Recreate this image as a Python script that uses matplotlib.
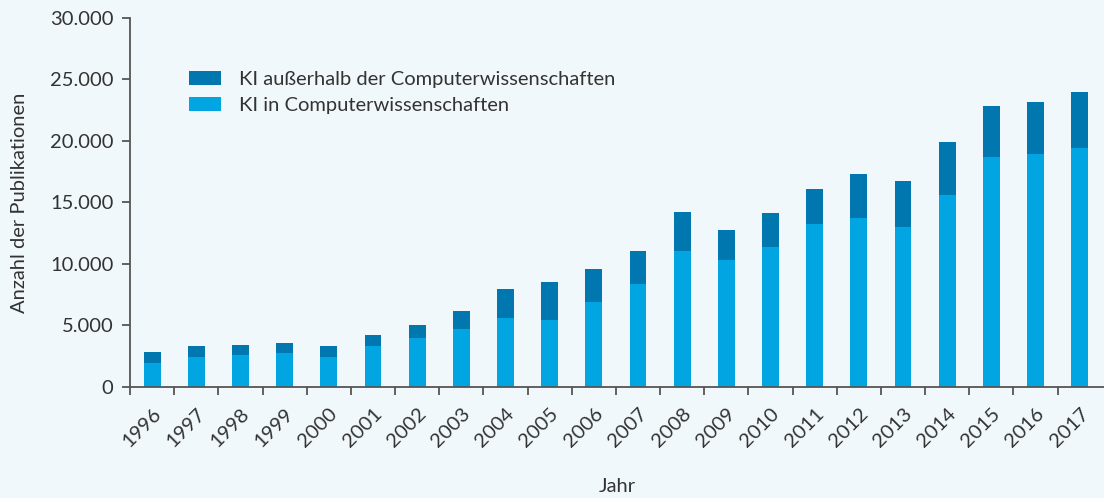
"""Stacked bars: KI publications per year, split by field."""

import matplotlib.pyplot as plt
import numpy as np
from matplotlib.ticker import FuncFormatter

years = ["1996", "1997", "1998", "1999", "2000", "2001", "2002", "2003",
         "2004", "2005", "2006", "2007", "2008", "2009", "2010", "2011",
         "2012", "2013", "2014", "2015", "2016", "2017"]

# publications inside computer science
ki_cs = [1960, 2470, 2630, 2800, 2470, 3340, 3990, 4730, 5620, 5460, 6870,
         8360, 11030, 10350, 11360, 13260, 13720, 12990, 15620, 18700,
         18960, 19430]

# totals per year (inside + outside computer science)
ki_total = [2850, 3340, 3420, 3590, 3340, 4240, 5050, 6140, 7930, 8500,
            9560, 11050, 14200, 12740, 14130, 16110, 17330, 16760, 19890,
            22850, 23180, 23990]

ki_other = [t - c for t, c in zip(ki_total, ki_cs)]

BG = "#f1f8fc"
TEXT = "#333333"
DARK = "#0077af"
LIGHT = "#00a5e1"
FS = 14.5

plt.rcParams["font.family"] = ["Lato", "DejaVu Sans"]

fig = plt.figure(figsize=(11.04, 4.98), dpi=100, facecolor=BG)
ax = fig.add_axes([0.1178, 0.223, 0.8822, 0.741], facecolor=BG)

x = np.arange(len(years))
width = 0.38
ax.bar(x, ki_cs, width, color=LIGHT, label="KI in Computerwissenschaften")
ax.bar(x, ki_other, width, bottom=ki_cs, color=DARK,
       label="KI außerhalb der Computerwissenschaften")

ax.set_xlim(-0.5, len(years) - 0.45)
ax.set_ylim(0, 30000)
ax.set_yticks(np.arange(0, 30001, 5000))
ax.yaxis.set_major_formatter(
    FuncFormatter(lambda v, _: f"{int(v):,}".replace(",", ".")))

# tick marks sit on the category boundaries, labels under the bars
ax.set_xticks(x - 0.5)
ax.set_xticklabels([])
ax.set_xticks(x, minor=True)
ax.set_xticklabels(years, minor=True, rotation=45, ha="right",
                   rotation_mode="anchor", fontsize=FS, color=TEXT)
ax.tick_params(axis="x", which="minor", length=0, pad=13)
ax.tick_params(axis="x", which="major", length=6, width=1.3, color="#555555")
ax.tick_params(axis="y", length=6, width=1.3, color="#555555",
               labelsize=FS, labelcolor=TEXT, pad=6)

for side in ("top", "right"):
    ax.spines[side].set_visible(False)
for side in ("left", "bottom"):
    ax.spines[side].set_color("#555555")
    ax.spines[side].set_linewidth(1.3)

ax.set_ylabel("Anzahl der Publikationen", fontsize=FS, color=TEXT,
              labelpad=16)
fig.text(0.5589, 0.012, "Jahr", fontsize=FS, color=TEXT,
         ha="center", va="baseline")

handles, labels = ax.get_legend_handles_labels()
ax.legend(handles[::-1], labels[::-1], loc="upper left",
          bbox_to_anchor=(0.042, 0.905), frameon=False, fontsize=FS,
          labelcolor=TEXT, handlelength=1.6, handleheight=0.7,
          handletextpad=0.9, labelspacing=0.45)

fig.savefig("out.png", dpi=100, facecolor=BG)
